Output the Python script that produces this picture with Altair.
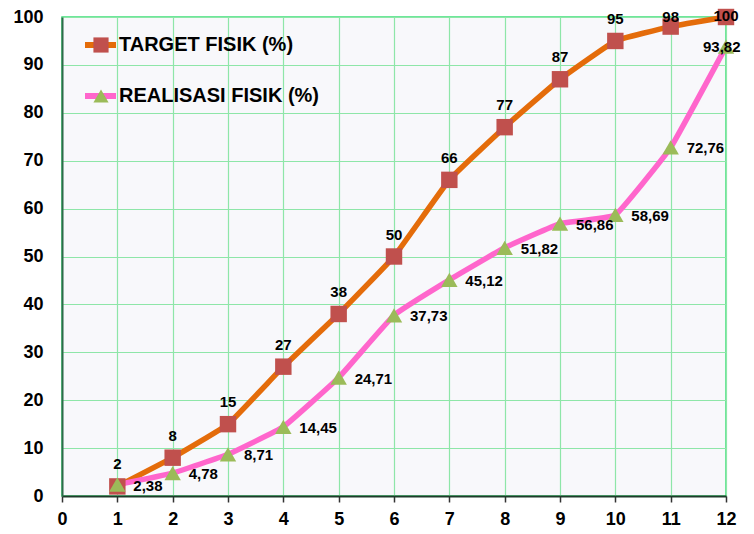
import altair as alt
import pandas as pd

months = [1, 2, 3, 4, 5, 6, 7, 8, 9, 10, 11, 12]
target = [2, 8, 15, 27, 38, 50, 66, 77, 87, 95, 98, 100]
realisasi = [2.38, 4.78, 8.71, 14.45, 24.71, 37.73, 45.12, 51.82, 56.86, 58.69, 72.76, 93.82]
target_labels = ["2", "8", "15", "27", "38", "50", "66", "77", "87", "95", "98", "100"]
real_labels = ["2,38", "4,78", "8,71", "14,45", "24,71", "37,73", "45,12", "51,82",
               "56,86", "58,69", "72,76", "93,82"]
series_names = ["TARGET FISIK (%)", "REALISASI FISIK (%)"]

rows = []
for m, t, tl in zip(months, target, target_labels):
    rows.append({"bulan": m, "nilai": t, "label": tl, "series": series_names[0]})
for m, r, rl in zip(months, realisasi, real_labels):
    rows.append({"bulan": m, "nilai": r, "label": rl, "series": series_names[1]})
df = pd.DataFrame(rows)

FONT = "Liberation Sans"
line_colors = ["#E46C0A", "#FF66CC"]
fill_colors = ["#C0504D", "#9BBB59"]

x_enc = alt.X("bulan:Q", scale=alt.Scale(domain=[0, 12], nice=False),
              axis=alt.Axis(values=list(range(0, 13)), format="d", title=None, grid=True,
                            gridColor="#8EE6A8", gridWidth=1.2, domainColor="#1E3A2A",
                            domainWidth=2, tickColor="#333333", tickSize=6, tickWidth=1.5,
                            labelFlush=False,
                            labelFont=FONT, labelFontSize=18, labelFontWeight="bold",
                            labelColor="black", labelPadding=8))
y_enc = alt.Y("nilai:Q", scale=alt.Scale(domain=[0, 100], nice=False),
              axis=alt.Axis(values=list(range(0, 101, 10)), format="d", title=None, grid=True,
                            gridColor="#8EE6A8", gridWidth=1.2, domainColor="#2E6B4A",
                            domainWidth=2, ticks=False, labelFlush=False,
                            labelFont=FONT, labelFontSize=18, labelFontWeight="bold",
                            labelColor="black", labelPadding=19))

base = alt.Chart(df)

lines = base.mark_line(strokeWidth=5.5, interpolate="cardinal", tension=0.7,
                       strokeCap="round", strokeJoin="round").encode(
    x=x_enc, y=y_enc,
    stroke=alt.Stroke("series:N", scale=alt.Scale(domain=series_names, range=line_colors),
                      legend=alt.Legend(orient="none", legendX=20, legendY=15, title=None,
                                        symbolType="stroke", symbolSize=961,
                                        symbolStrokeWidth=6, clipHeight=26, rowPadding=25,
                                        padding=0, labelOffset=0, labelFont=FONT,
                                        labelFontSize=20, labelFontWeight="bold",
                                        labelColor="black", labelLimit=400)),
    detail="series:N",
)

points = base.transform_calculate(seriesp="datum.series").mark_point(
    filled=True, size=270, opacity=1, strokeWidth=0).encode(
    x="bulan:Q", y="nilai:Q",
    fill=alt.Fill("seriesp:N", scale=alt.Scale(domain=series_names, range=fill_colors),
                  legend=alt.Legend(orient="none", legendX=31, legendY=15, title=None,
                                    symbolSize=230, symbolStrokeWidth=0, clipHeight=26,
                                    rowPadding=25, padding=0, labelExpr="''",
                                    symbolOpacity=1)),
    shape=alt.Shape("seriesp:N", scale=alt.Scale(domain=series_names,
                                                range=["square", "triangle-up"]),
                    legend=alt.Legend(orient="none", legendX=31, legendY=15, title=None,
                                      symbolSize=230, symbolStrokeWidth=0, clipHeight=26,
                                      rowPadding=25, padding=0, labelExpr="''",
                                      symbolOpacity=1)),
)

text_style = dict(font=FONT, fontSize=15, fontWeight="bold", color="black")

t_base = base.transform_filter(alt.datum.series == series_names[0])
t_labels_main = t_base.transform_filter(alt.datum.bulan <= 10).mark_text(
    dy=-22, align="center", baseline="middle", **text_style).encode(
    x="bulan:Q", y="nilai:Q", text="label:N")
t_label_11 = t_base.transform_filter(alt.datum.bulan == 11).mark_text(
    dy=-10, align="center", baseline="middle", **text_style).encode(
    x="bulan:Q", y="nilai:Q", text="label:N")
t_label_12 = t_base.transform_filter(alt.datum.bulan == 12).mark_text(
    dy=-1, align="center", baseline="middle", **text_style).encode(
    x="bulan:Q", y="nilai:Q", text="label:N")

r_base = base.transform_filter(alt.datum.series == series_names[1])
r_labels_main = r_base.transform_filter(alt.datum.bulan <= 11).mark_text(
    dx=16, dy=1, align="left", baseline="middle", **text_style).encode(
    x="bulan:Q", y="nilai:Q", text="label:N")
r_label_12 = r_base.transform_filter(alt.datum.bulan == 12).mark_text(
    dx=-23, dy=0, align="left", baseline="middle", **text_style).encode(
    x="bulan:Q", y="nilai:Q", text="label:N")

chart = alt.layer(
    lines, points, t_labels_main, t_label_11, t_label_12, r_labels_main, r_label_12
).resolve_scale(shape="independent", fill="independent").properties(
    width=664, height=479,
    autosize=alt.AutoSizeParams(type="none"),
    padding={"left": 54, "top": 9, "right": 20, "bottom": 36},
    background="white",
).configure_view(
    fill="#F8F8FB", stroke="#3EE07A", strokeWidth=1.5
)

chart.save("out.html", embed_options={"renderer": "svg", "actions": False})
